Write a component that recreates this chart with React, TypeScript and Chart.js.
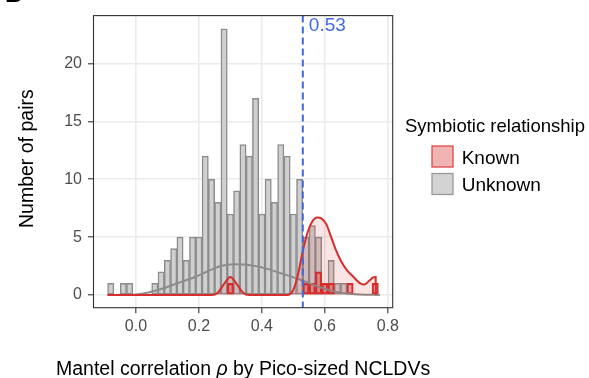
import React, { useEffect, useRef } from 'react';
import { Chart, registerables } from 'chart.js';

Chart.register(...registerables);

// ---- data ----
const binCenters = [
  -0.08, -0.06, -0.04, -0.02, 0.0, 0.02, 0.04, 0.06, 0.08, 0.1,
  0.12, 0.14, 0.16, 0.18, 0.2, 0.22, 0.24, 0.26, 0.28, 0.3,
  0.32, 0.34, 0.36, 0.38, 0.4, 0.42, 0.44, 0.46, 0.48, 0.5,
  0.52, 0.54, 0.56, 0.58, 0.6, 0.62, 0.64, 0.66, 0.68, 0.7,
  0.72, 0.74, 0.76,
];
const unknownCounts = [
  1, 0, 1, 1, 0, 0, 0, 1, 2, 3,
  4, 5, 3, 5, 5, 12, 10, 8, 23, 7,
  9, 13, 12, 17, 7, 10, 8, 13, 12, 7,
  10, 5, 6, 5, 1, 3, 1, 1, 0, 0,
  0, 0, 0,
];
const knownCounts = [
  0, 0, 0, 0, 0, 0, 0, 0, 0, 0,
  0, 0, 0, 0, 0, 0, 0, 0, 0, 1,
  0, 0, 0, 0, 0, 0, 0, 0, 0, 0,
  0, 1, 1, 2, 1, 1, 0, 0, 1, 0,
  0, 0, 1,
];
const unknownDensityX = [-0.09, -0.05, 0.0, 0.04, 0.08, 0.11, 0.15, 0.19, 0.23, 0.27, 0.31, 0.35, 0.39, 0.43, 0.47, 0.51, 0.55, 0.59, 0.63, 0.67, 0.71, 0.775];
const unknownDensityY = [0, 0.01, 0.05, 0.22, 0.52, 0.8, 1.2, 1.58, 2.07, 2.5, 2.65, 2.62, 2.45, 2.15, 1.8, 1.43, 1.02, 0.63, 0.31, 0.12, 0.04, 0];
const knownDensityX = [-0.09, 0.24, 0.26, 0.28, 0.3, 0.32, 0.34, 0.36, 0.48, 0.5, 0.515, 0.53, 0.545, 0.56, 0.575, 0.59, 0.605, 0.62, 0.635, 0.65, 0.67, 0.69, 0.71, 0.725, 0.74, 0.752, 0.7615, 0.762];
const knownDensityY = [0, 0, 0.2, 0.95, 1.56, 0.95, 0.2, 0, 0, 0.45, 1.8, 3.8, 5.4, 6.35, 6.7, 6.6, 6.1, 5.0, 3.9, 3.0, 2.15, 1.6, 1.05, 0.9, 1.2, 1.5, 1.56, 0];
const xTicks = [0, 0.2, 0.4, 0.6, 0.8];
const yTicks = [0, 5, 10, 15, 20];
const thresholdValue = 0.53;
const thresholdLabel = '0.53';
const legendTitle = 'Symbiotic relationship';
const legendLabels = ['Known', 'Unknown'];
const xTitleParts = ['Mantel correlation ', 'ρ', ' by Pico-sized NCLDVs'];
const yTitle = 'Number of pairs';
const panelLabel = 'B';

const FONT = '"Liberation Sans", Arial, Helvetica, sans-serif';
const RED = '#d62d2d';
const GRAY_LINE = '#8c8c8c';
const BLUE = '#4169e1';

const decorPlugin = {
  id: 'decor',
  afterDatasetsDraw(chart: any) {
    const { ctx, chartArea, scales } = chart;
    const x = scales.x.getPixelForValue(thresholdValue);
    ctx.save();
    ctx.strokeStyle = BLUE;
    ctx.lineWidth = 2;
    ctx.setLineDash([7, 4]);
    ctx.beginPath();
    ctx.moveTo(x, chartArea.top);
    ctx.lineTo(x, chartArea.bottom);
    ctx.stroke();
    ctx.setLineDash([]);
    ctx.fillStyle = BLUE;
    ctx.font = `19px ${FONT}`;
    ctx.textAlign = 'left';
    ctx.textBaseline = 'alphabetic';
    ctx.fillText(thresholdLabel, x + 6, 30.5);
    // panel border
    ctx.strokeStyle = '#333333';
    ctx.lineWidth = 1.1;
    ctx.strokeRect(chartArea.left, chartArea.top, chartArea.right - chartArea.left, chartArea.bottom - chartArea.top);
    ctx.restore();
  },
  afterDraw(chart: any) {
    const { ctx, chartArea } = chart;
    ctx.save();
    // panel label (cut off at top)
    ctx.fillStyle = '#000';
    ctx.font = `bold 24px ${FONT}`;
    ctx.textAlign = 'left';
    ctx.textBaseline = 'alphabetic';
    ctx.fillText(panelLabel, 5, 2);

    // y title
    ctx.font = `19.5px ${FONT}`;
    ctx.save();
    ctx.translate(28, (chartArea.top + chartArea.bottom) / 2 - 3);
    ctx.rotate(-Math.PI / 2);
    ctx.textAlign = 'center';
    ctx.textBaseline = 'middle';
    ctx.fillText(yTitle, 0, 0);
    ctx.restore();

    // x title
    const fN = `19.5px ${FONT}`;
    const fI = `italic 19.5px ${FONT}`;
    const fonts = [fN, fI, fN];
    let total = 0;
    const widths = xTitleParts.map((p, i) => {
      ctx.font = fonts[i];
      const w = ctx.measureText(p).width;
      total += w;
      return w;
    });
    let cx = (chartArea.left + chartArea.right) / 2 - total / 2;
    ctx.textAlign = 'left';
    xTitleParts.forEach((p, i) => {
      ctx.font = fonts[i];
      ctx.fillText(p, cx, 375);
      cx += widths[i];
    });

    // legend
    ctx.font = `18.5px ${FONT}`;
    ctx.fillText(legendTitle, 405, 131.7);
    ctx.font = `19px ${FONT}`;
    const sw = [
      { y: 146, fill: '#f0b4b4', stroke: '#e04848' },
      { y: 173.5, fill: '#d3d3d3', stroke: '#9a9a9a' },
    ];
    sw.forEach((s, i) => {
      ctx.fillStyle = s.fill;
      ctx.fillRect(432, s.y, 21, 21);
      ctx.strokeStyle = s.stroke;
      ctx.lineWidth = 1.3;
      ctx.strokeRect(432, s.y, 21, 21);
      ctx.fillStyle = '#000';
      ctx.fillText(legendLabels[i], 461.7, s.y + 17.5);
    });
    ctx.restore();
  },
};

export default function App() {
  const ref = useRef<HTMLCanvasElement | null>(null);
  useEffect(() => {
    if (!ref.current) return;
    const chart = new Chart(ref.current, {
      type: 'bar',
      data: {
        datasets: [
          {
            type: 'line',
            data: knownDensityX.map((x, i) => ({ x, y: knownDensityY[i] })),
            borderColor: RED,
            borderWidth: 2,
            backgroundColor: 'rgba(214,45,45,0.13)',
            fill: 'origin',
            pointRadius: 0,
            cubicInterpolationMode: 'monotone',
            order: 1,
          } as any,
          {
            type: 'line',
            data: unknownDensityX.map((x, i) => ({ x, y: unknownDensityY[i] })),
            borderColor: GRAY_LINE,
            borderWidth: 2,
            fill: false,
            pointRadius: 0,
            cubicInterpolationMode: 'monotone',
            order: 2,
          } as any,
          {
            type: 'bar',
            data: binCenters.map((x, i) => ({ x, y: knownCounts[i] })),
            backgroundColor: 'rgba(214,45,45,0.33)',
            borderColor: RED,
            borderWidth: 1.5,
            borderSkipped: false,
            grouped: false,
            barPercentage: 1,
            categoryPercentage: 1,
            order: 3,
          } as any,
          {
            type: 'bar',
            data: binCenters.map((x, i) => ({ x, y: unknownCounts[i] })),
            backgroundColor: '#d0d0d0',
            borderColor: GRAY_LINE,
            borderWidth: 1.5,
            borderSkipped: false,
            grouped: false,
            barPercentage: 1,
            categoryPercentage: 1,
            order: 4,
          } as any,
        ],
      },
      options: {
        responsive: false,
        animation: false,
        devicePixelRatio: 1,
        layout: { padding: { top: 12.7, right: 196.3, left: 0, bottom: 0 } },
        plugins: { legend: { display: false }, tooltip: { enabled: false } },
        scales: {
          x: {
            type: 'linear',
            min: -0.1348,
            max: 0.8155,
            offset: false,
            afterBuildTicks: (s: any) => {
              s.ticks = xTicks.map((v) => ({ value: v }));
            },
            afterFit: (s: any) => {
              s.height = 70.3;
            },
            grid: {
              offset: false,
              color: '#ebebeb',
              lineWidth: 1.6,
              tickColor: '#333333',
              tickWidth: 1.1,
              tickLength: 5.5,
            },
            border: { display: false },
            ticks: {
              callback: (v: any) => Number(v).toFixed(1),
              font: { family: FONT, size: 16 },
              color: '#4d4d4d',
              padding: 3.5,
              maxRotation: 0,
              autoSkip: false,
            },
          },
          y: {
            type: 'linear',
            min: -1.1,
            max: 24.15,
            afterBuildTicks: (s: any) => {
              s.ticks = yTicks.map((v) => ({ value: v }));
            },
            afterFit: (s: any) => {
              s.width = 93.5;
            },
            grid: {
              color: '#ebebeb',
              lineWidth: 1.6,
              tickColor: '#333333',
              tickWidth: 1.1,
              tickLength: 5.5,
            },
            border: { display: false },
            ticks: {
              callback: (v: any) => String(v),
              font: { family: FONT, size: 16 },
              color: '#4d4d4d',
              padding: 6,
              autoSkip: false,
            },
          },
        },
      } as any,
      plugins: [decorPlugin],
    });
    return () => chart.destroy();
  }, []);
  return (
    <canvas
      ref={ref}
      width={589}
      height={378}
      style={{ position: 'absolute', left: 0, top: 0, width: 589, height: 378, display: 'block' }}
    />
  );
}
